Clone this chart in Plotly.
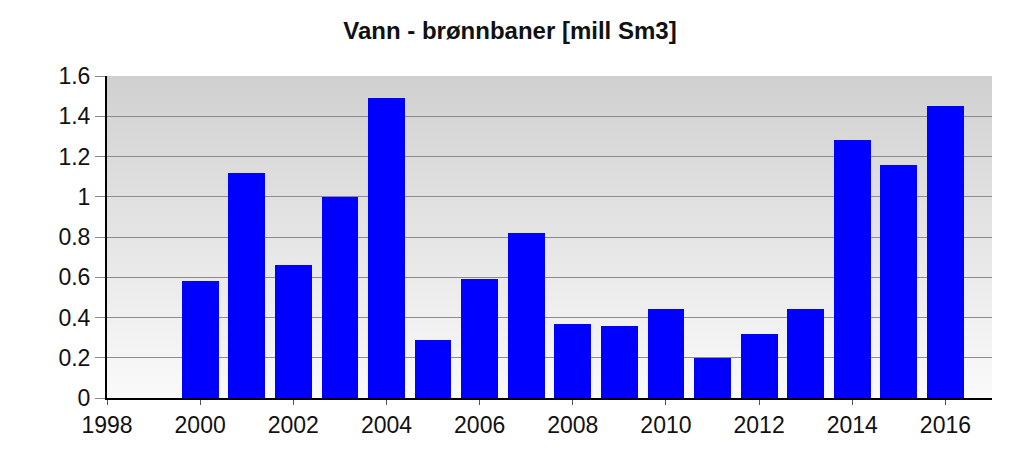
import plotly.graph_objects as go

years = [2000, 2001, 2002, 2003, 2004, 2005, 2006, 2007, 2008, 2009,
         2010, 2011, 2012, 2013, 2014, 2015, 2016]
water = [0.58, 1.12, 0.66, 1.00, 1.49, 0.29, 0.59, 0.82, 0.37, 0.36,
         0.44, 0.20, 0.32, 0.44, 1.28, 1.16, 1.45]
x_ticks = [1998, 2000, 2002, 2004, 2006, 2008, 2010, 2012, 2014, 2016]
y_ticks = [0, 0.2, 0.4, 0.6, 0.8, 1, 1.2, 1.4, 1.6]
y_tick_text = ["0", "0.2", "0.4", "0.6", "0.8", "1", "1.2", "1.4", "1.6"]
title = "Vann - brønnbaner [mill Sm3]"

fig = go.Figure()
fig.add_trace(go.Bar(x=years, y=water, width=0.79,
                     marker=dict(color="#0000FF", line=dict(width=0))))

# vertical gradient background (dark grey top -> near white bottom)
n = 161
top = (208, 208, 208)
bot = (250, 250, 250)
shapes = []
for i in range(n):
    t = i / (n - 1)
    c = tuple(int(round(top[k] + (bot[k] - top[k]) * t)) for k in range(3))
    shapes.append(dict(type="rect", xref="paper", yref="paper",
                       x0=0, x1=1, y0=1 - (i + 1) / n, y1=1 - i / n,
                       fillcolor="rgb(%d,%d,%d)" % c, line=dict(width=0),
                       layer="below"))

fig.update_layout(
    width=1024, height=465,
    margin=dict(l=107, r=32, t=76, b=67),
    paper_bgcolor="white", plot_bgcolor="white",
    shapes=shapes,
    showlegend=False,
    title=dict(text="<b>" + title + "</b>", x=0.498, xanchor="center",
               y=0.935, yanchor="middle",
               font=dict(family="Liberation Sans, Arial", size=24, color="#111")),
    font=dict(family="Liberation Sans, Arial", size=23, color="#111"),
    bargap=0,
)
fig.update_xaxes(range=[1998, 2017], tickvals=x_ticks, ticks="outside",
                 ticklen=5, tickcolor="#555", showgrid=False,
                 showline=True, linecolor="black", linewidth=2,
                 zeroline=False, tickfont=dict(size=23))
fig.update_yaxes(range=[0, 1.6], tickvals=y_ticks, ticktext=y_tick_text,
                 ticks="outside", ticklen=10, tickcolor="#888",
                 showgrid=True, gridcolor="#8c8c8c", gridwidth=1,
                 showline=True, linecolor="black", linewidth=2,
                 zeroline=False, tickfont=dict(size=23))

fig.write_html("out.html")
